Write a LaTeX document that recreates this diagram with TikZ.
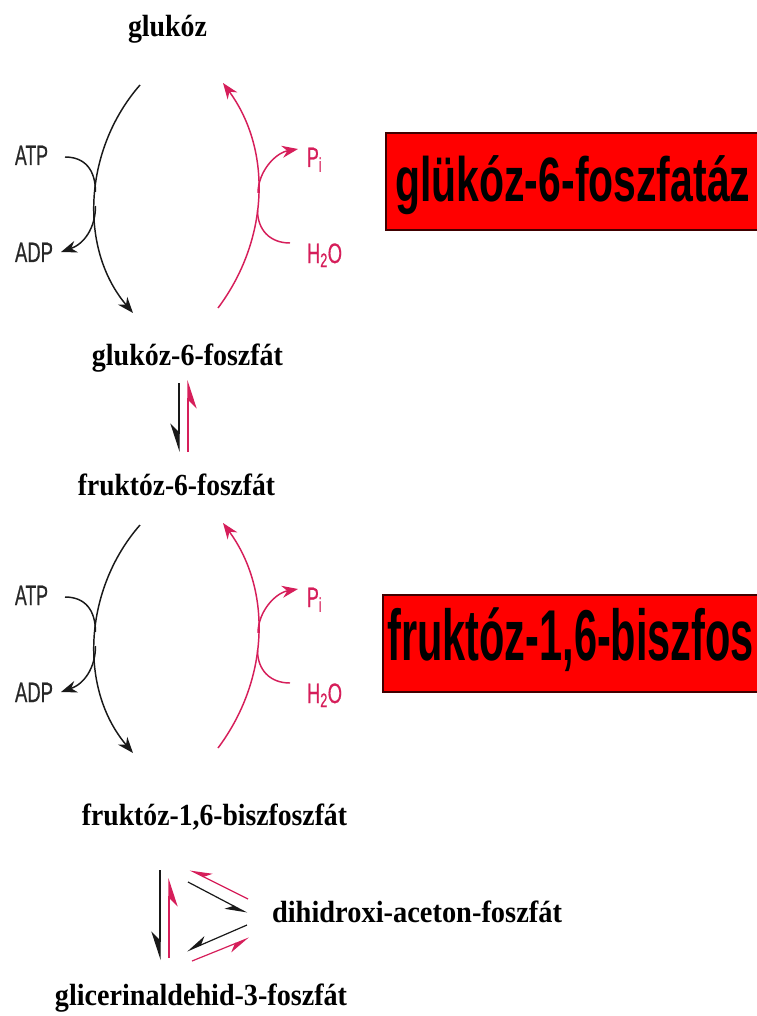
\documentclass[tikz,border=0pt]{standalone}
\usepackage{fontspec}
\usepackage{graphicx}
\setmainfont{Liberation Serif}
\newfontfamily\sansf{Liberation Sans}
\newfontfamily\sansfb[FakeBold=0.8]{Liberation Sans}
\usetikzlibrary{arrows.meta}
\definecolor{pinkc}{RGB}{214,30,90}
\definecolor{boxred}{RGB}{255,0,0}
\definecolor{grayt}{RGB}{40,40,40}
\newcommand\fitw[2]{\resizebox{#1pt}{\height}{#2}}
\newcommand\mycycle[1]{%
  \node[sml,text=grayt] (#1atp) at (31.5,165) {\fitw{24.75}{ATP}};
  \node[sml,text=grayt] (#1adp) at (34,262) {\fitw{28.5}{ADP}};
  \node[sml,text=pinkc] (#1pi) at (314.5,167) {\fitw{11.25}{P\textsubscript{i}}};
  \node[sml,text=pinkc] (#1hto) at (324.5,263) {\fitw{26.25}{H\textsubscript{2}O}};
  \coordinate (#1a) at (140,85);
  \coordinate (#1b) at (133,313);
  \coordinate (#1c) at (218,308);
  \coordinate (#1d) at (223,83);
  \coordinate (#1atpe) at (65,157);
  \coordinate (#1j1) at (95.5,192);
  \coordinate (#1j2) at (95.5,206);
  \coordinate (#1adpe) at (61,252);
  \coordinate (#1htoe) at (290,243);
  \coordinate (#1j3) at (257.5,210);
  \coordinate (#1j4) at (258,193);
  \coordinate (#1pie) at (298,149);
  \draw[blk,tipb] (#1a) .. controls (84,149) and (78,248) .. (#1b);
  \draw[blk] (#1atpe) .. controls (85,157) and (95.5,170) .. (#1j1);
  \draw[blk,tipb] (#1j2) .. controls (95.5,228) and (84,244) .. (#1adpe);
  \draw[pnk,tipb] (#1c) .. controls (268.5,240.6) and (272.8,150.9) .. (#1d);
  \draw[pnk] (#1htoe) .. controls (270,243) and (257.5,230) .. (#1j3);
  \draw[pnk,tipb] (#1j4) .. controls (258,172) and (275,153) .. (#1pie);
}
\begin{document}
\begin{tikzpicture}[x=0.75pt,y=-0.75pt,
  lbl/.style={inner sep=0pt, anchor=base, font=\fontsize{23}{23}\selectfont\bfseries},
  sml/.style={inner sep=0pt, anchor=base, font=\sansfb\fontsize{21}{21}\selectfont},
  bigt/.style={inner sep=0pt, anchor=base west, font=\sansf\bfseries},
  redbox/.style={fill=boxred, draw=black!75!red, line width=1.5pt},
  blk/.style={draw=black!90, line width=1.1pt},
  pnk/.style={draw=pinkc, line width=1.1pt},
  tipb/.style={-{Stealth[length=12pt,width=9pt]}},
  harp/.style={-{Stealth[harpoon,swap,length=20pt,width=13pt]}, line width=0.9pt},
  harps/.style={-{Stealth[harpoon,swap,length=15pt,width=10pt]}, line width=0.9pt},
]
\useasboundingbox (0,0) rectangle (756,1016);
\fill[white] (0,0) rectangle (756,1016);

% labels
\node[lbl] (glc) at (167.5,37) {\fitw{59.25}{glukóz}};
\node[lbl] (g6p) at (187.5,365) {\fitw{143.25}{glukóz-6-foszfát}};
\node[lbl] (f6p) at (176.5,495) {\fitw{147.75}{fruktóz-6-foszfát}};
\node[lbl] (fbp) at (214.5,825) {\fitw{198.75}{fruktóz-1,6-biszfoszfát}};
\node[lbl] (dhap) at (417,922) {\fitw{217.5}{dihidroxi-aceton-foszfát}};
\node[lbl] (gap) at (201,1005) {\fitw{219}{glicerinaldehid-3-foszfát}};

% enzyme boxes
\draw[redbox] (386,133) rectangle (775,230);
\node[bigt, font=\sansf\bfseries\fontsize{47}{47}\selectfont] (enz1) at (395,202) {\fitw{266.25}{glükóz-6-foszfatáz}};
\draw[redbox] (383,595) rectangle (775,692);
\node[bigt, font=\sansf\bfseries\fontsize{54}{54}\selectfont] (enz2) at (387,660) {\fitw{275}{fruktóz-1,6-biszfos}};

% cycles
\mycycle{u}
\begin{scope}[shift={(0,440)}]
\mycycle{l}
\end{scope}

% harpoons g6p <-> f6p
\coordinate (h1s) at (179,383);
\coordinate (h1e) at (179,452);
\coordinate (h2s) at (188,452);
\coordinate (h2e) at (188,380);
\draw[blk,harp] (h1s) -- (h1e);
\draw[pnk,harp] (h2s) -- (h2e);

% harpoons fbp <-> gap
\coordinate (h3s) at (160,870);
\coordinate (h3e) at (160,960);
\coordinate (h4s) at (169,958);
\coordinate (h4e) at (169,878);
\draw[blk,harp] (h3s) -- (h3e);
\draw[pnk,harp] (h4s) -- (h4e);

% harpoons to/from dhap
\coordinate (h5s) at (248,899);
\coordinate (h5e) at (190,870);
\coordinate (h6s) at (188,882);
\coordinate (h6e) at (247,913);
\coordinate (h7s) at (247,925);
\coordinate (h7e) at (187,951);
\coordinate (h8s) at (192,961);
\coordinate (h8e) at (249,938);
\draw[pnk,harps] (h5s) -- (h5e);
\draw[blk,harps] (h6s) -- (h6e);
\draw[blk,harps] (h7s) -- (h7e);
\draw[pnk,harps] (h8s) -- (h8e);
\end{tikzpicture}
\end{document}
